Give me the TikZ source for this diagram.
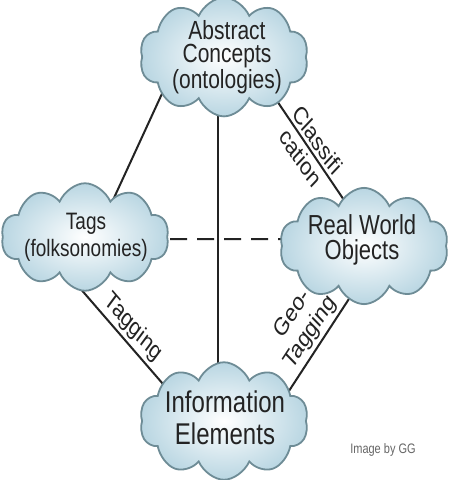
\documentclass[tikz,border=0pt]{standalone}
\usepackage{fontspec}
\setmainfont{Liberation Sans}
\usetikzlibrary{shapes.symbols,backgrounds,calc}
\definecolor{cloudline}{RGB}{110,140,150}
\definecolor{cloudfill}{RGB}{185,214,226}
\definecolor{linkcol}{RGB}{35,35,35}
\definecolor{txtcol}{RGB}{35,35,35}
\tikzset{
  cloudbox/.style={cloud, cloud puffs=10, cloud puff arc=120, cloud ignores aspect,
    inner sep=0pt, draw=cloudline, line width=1.8pt, inner color=white, outer color=cloudfill},
  cloudtext/.style={text=txtcol, align=center, inner sep=0pt},
  link/.style={draw=linkcol, line width=2pt},
  linklabel/.style={text=txtcol, align=center, inner sep=3.5pt, font=\fontsize{20}{23}\selectfont},
}
\begin{document}
\begin{tikzpicture}[x=1pt, y=-0.8pt]
\begin{scope}[yscale=1.25, every node/.append style={transform shape}]
\useasboundingbox (0,0) rectangle (451,480);
% clouds
\node[cloudbox, minimum width=168pt, minimum height=95pt] (abs) at (224,57) {};
\node[cloudbox, minimum width=167pt, minimum height=86pt] (tags) at (85,237) {};
\node[cloudbox, minimum width=168pt, minimum height=93pt] (real) at (364,246) {};
\node[cloudbox, minimum width=168pt, minimum height=94pt] (info) at (224,421) {};
% texts
\node[cloudtext, font=\fontsize{21}{19}\selectfont] (abstxt) at (227,57) {Abstract\\Concepts\\(ontologies)};
\node[cloudtext, font=\fontsize{19}{21.5}\selectfont] (tagstxt) at (86,237) {Tags\\(folksonomies)};
\node[cloudtext, font=\fontsize{22}{20.5}\selectfont] (realtxt) at (362,240) {Real World\\Objects};
\node[cloudtext, font=\fontsize{24}{26}\selectfont] (infotxt) at (225,418) {Information\\Elements};
\node[text=black!60, font=\fontsize{11}{13}\selectfont, inner sep=0pt] (credit) at (383,450) {Image by GG};
% connectors
\begin{pgfonlayer}{background}
\fill[white] (0,0) rectangle (451,480);
\draw[link] ($(abs)+(-58,28)$) -- ($(tags)+(28,-37)$);
\draw[link] ($(abs)+(-6,48)$) -- ($(info)+(-6,-50)$);
\draw[link] ($(abs)+(49,38)$) -- coordinate[pos=0.51] (clsmid) ($(real)+(-20,-46)$);
\draw[link, dash pattern=on 17pt off 10pt, dash phase=17pt] ($(tags)+(75,2)$) -- ($(real)+(-75,-7)$);
\draw[link] ($(tags)+(-12,43)$) -- coordinate[pos=0.53] (tagmid) ($(info)+(-54,-29)$);
\draw[link] ($(real)+(-6,39)$) -- coordinate[pos=0.5] (geomid) ($(info)+(59,-21)$);
\end{pgfonlayer}
% connector labels
\node[linklabel, rotate=-50, anchor=south] (cls1) at (clsmid) {Classifi};
\node[linklabel, rotate=-50, anchor=north] (cls2) at (clsmid) {cation};
\node[linklabel, rotate=-42.7, anchor=south] (tag) at (tagmid) {Tagging};
\node[linklabel, rotate=50.8, anchor=south] (geo) at (geomid) {Geo-\\Tagging};
\end{scope}
\end{tikzpicture}
\end{document}
